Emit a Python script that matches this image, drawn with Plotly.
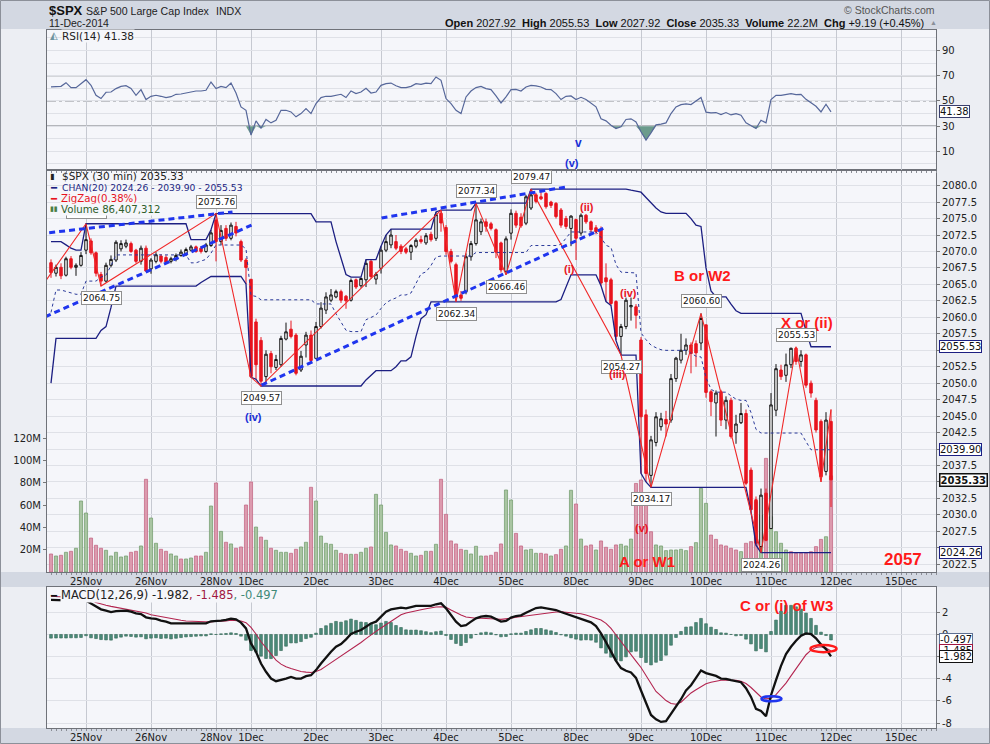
import plotly.graph_objects as go

# 30-minute bars, 24 Nov 2014 (last 7 bars) to 11 Dec 2014; x = bar number
day_labels = ["25Nov", "26Nov", "28Nov", "1Dec", "2Dec", "3Dec", "4Dec", "5Dec",
              "8Dec", "9Dec", "10Dec", "11Dec", "12Dec", "15Dec"]
day_start = [7, 20, 33, 40, 53, 66, 79, 92, 105, 118, 131, 144, 157, 170]

opens = [2068.3, 2066.7, 2067.6, 2066.4, 2068.9, 2067.6, 2067.9, 2070.2, 2071.6, 2069.8,
         2066.5, 2065.5, 2067.9, 2068.7, 2070.4, 2070.8, 2071.2, 2070.2, 2068.5, 2070.5,
         2067.36, 2068.5, 2069.3, 2069.1, 2068.5, 2068.8, 2069.4, 2069.5, 2070.2, 2070.7,
         2070.5, 2070.0, 2070.9, 2074.78, 2071.5, 2073.5, 2072.0, 2073.8, 2071.5, 2068.7,
         2065.78, 2059.3, 2056.5, 2051.0, 2054.5, 2052.4, 2052.8, 2056.7, 2058.2, 2057.3,
         2052.0, 2055.8, 2057.3, 2053.77, 2058.6, 2061.1, 2062.6, 2063.1, 2063.9, 2063.2,
         2062.6, 2065.7, 2064.8, 2065.7, 2068.5, 2065.8, 2067.45, 2070.2, 2071.0, 2071.5,
         2070.8, 2070.4, 2069.9, 2070.8, 2071.8, 2071.3, 2072.6, 2072.0, 2075.8, 2073.64,
         2070.0, 2068.0, 2063.4, 2063.9, 2069.2, 2071.2, 2073.0, 2074.5, 2074.2, 2073.3,
         2071.3, 2067.0, 2072.78, 2075.8, 2075.2, 2074.3, 2076.6, 2078.6, 2078.3, 2078.8,
         2077.5, 2077.3, 2076.3, 2075.0, 2073.5, 2074.84, 2072.8, 2075.5, 2074.5, 2073.6,
         2073.3, 2066.0, 2065.7, 2062.4, 2057.1, 2058.6, 2061.6, 2061.6, 2056.55, 2045.2,
         2036.0, 2041.0, 2043.4, 2044.5, 2044.4, 2050.7, 2053.5, 2055.0, 2055.8, 2056.0,
         2056.1, 2058.86, 2048.7, 2047.0, 2048.7, 2044.4, 2047.4, 2042.5, 2044.0, 2045.4,
         2036.8, 2032.3, 2025.2, 2033.3, 2027.92, 2045.9, 2052.0, 2051.2, 2052.8, 2055.3,
         2053.3, 2054.3, 2050.0, 2047.4, 2044.2, 2036.6, 2044.2]
highs = [2068.8, 2068.0, 2068.2, 2069.2, 2069.3, 2068.2, 2069.9, 2074.21, 2072.0, 2070.0,
         2066.9, 2068.3, 2069.4, 2071.7, 2071.7, 2071.8, 2071.5, 2070.4, 2070.9, 2070.9,
         2069.0, 2069.9, 2069.6, 2069.4, 2069.2, 2069.7, 2070.3, 2070.6, 2071.0, 2070.9,
         2070.7, 2071.3, 2073.29, 2075.76, 2074.0, 2074.0, 2074.4, 2074.5, 2071.8, 2069.0,
         2065.78, 2059.8, 2057.0, 2055.0, 2054.9, 2054.3, 2057.2, 2059.2, 2059.5, 2057.6,
         2054.9, 2057.8, 2058.0, 2059.3, 2062.3, 2063.8, 2064.3, 2064.2, 2064.2, 2063.4,
         2065.9, 2065.9, 2066.0, 2068.77, 2068.7, 2066.9, 2070.8, 2072.5, 2073.4, 2072.5,
         2071.1, 2070.7, 2071.1, 2072.0, 2072.4, 2072.8, 2073.0, 2076.0, 2076.28, 2074.0,
         2070.4, 2068.3, 2064.0, 2069.7, 2071.6, 2077.34, 2075.0, 2075.0, 2074.5, 2073.5,
         2071.5, 2072.3, 2076.4, 2076.2, 2075.8, 2078.6, 2079.47, 2078.9, 2079.0, 2079.0,
         2077.7, 2077.5, 2076.6, 2075.4, 2075.5, 2075.0, 2075.78, 2075.7, 2074.7, 2074.0,
         2073.8, 2068.2, 2066.0, 2062.6, 2059.0, 2063.0, 2063.0, 2062.0, 2057.0, 2046.0,
         2042.0, 2045.6, 2045.5, 2045.8, 2051.4, 2054.0, 2057.5, 2056.8, 2056.2, 2056.5,
         2060.60, 2058.86, 2049.0, 2048.9, 2049.0, 2048.0, 2047.8, 2045.2, 2047.0, 2046.0,
         2037.2, 2032.8, 2034.0, 2034.0, 2048.5, 2052.9, 2052.8, 2054.5, 2055.4, 2055.53,
         2055.0, 2054.5, 2050.4, 2047.8, 2044.5, 2045.6, 2046.0]
lows = [2066.0, 2066.2, 2065.8, 2066.2, 2067.3, 2066.3, 2067.7, 2069.6, 2069.5, 2066.2,
        2064.75, 2065.3, 2067.6, 2068.4, 2070.0, 2070.5, 2069.8, 2068.2, 2068.0, 2066.9,
        2066.62, 2068.2, 2068.2, 2068.1, 2068.2, 2068.5, 2069.2, 2069.3, 2070.0, 2069.8,
        2069.7, 2069.8, 2070.7, 2068.5, 2071.0, 2071.6, 2071.7, 2072.3, 2068.4, 2065.06,
        2050.9, 2050.6, 2049.57, 2050.2, 2051.5, 2052.0, 2052.5, 2056.5, 2056.8, 2051.2,
        2051.7, 2053.9, 2053.2, 2053.77, 2058.3, 2060.5, 2062.3, 2062.9, 2062.2, 2061.3,
        2062.4, 2064.3, 2064.5, 2064.6, 2065.9, 2065.0, 2066.65, 2069.9, 2070.5, 2070.2,
        2069.6, 2069.6, 2068.7, 2070.5, 2071.2, 2071.0, 2071.5, 2071.6, 2073.0, 2069.5,
        2068.2, 2062.34, 2062.5, 2063.5, 2068.6, 2070.9, 2072.5, 2073.0, 2073.2, 2069.0,
        2066.8, 2066.46, 2071.8, 2073.6, 2073.6, 2074.0, 2076.3, 2077.3, 2077.8, 2076.5,
        2076.6, 2075.0, 2073.6, 2073.4, 2070.81, 2068.7, 2072.4, 2074.2, 2072.9, 2072.6,
        2064.8, 2062.4, 2061.8, 2056.5, 2054.27, 2058.2, 2059.5, 2058.3, 2036.3, 2035.0,
        2034.17, 2040.4, 2042.8, 2041.9, 2044.0, 2050.2, 2053.0, 2054.3, 2051.5, 2052.5,
        2055.0, 2047.8, 2045.0, 2041.9, 2043.5, 2043.0, 2041.6, 2040.8, 2043.8, 2034.5,
        2030.5, 2025.4, 2024.26, 2026.0, 2027.92, 2045.0, 2050.5, 2050.2, 2052.3, 2052.8,
        2052.5, 2049.3, 2047.8, 2042.5, 2035.0, 2036.0, 2031.2]
closes = [2066.8, 2067.6, 2066.3, 2068.9, 2067.6, 2067.9, 2069.4, 2071.8, 2069.8, 2066.7,
          2065.5, 2067.9, 2068.8, 2071.4, 2071.2, 2071.3, 2070.0, 2068.5, 2070.5, 2067.03,
          2068.7, 2069.5, 2068.5, 2068.4, 2068.9, 2069.4, 2069.9, 2070.3, 2070.7, 2070.0,
          2070.0, 2071.0, 2072.83, 2071.5, 2073.2, 2072.0, 2074.0, 2072.8, 2068.7, 2067.56,
          2051.0, 2052.8, 2050.3, 2054.4, 2052.5, 2053.6, 2056.8, 2057.8, 2057.1, 2051.5,
          2054.1, 2057.3, 2053.44, 2058.6, 2061.4, 2063.1, 2063.4, 2063.9, 2062.6, 2062.5,
          2065.6, 2064.6, 2065.9, 2068.2, 2066.2, 2066.55, 2070.2, 2071.5, 2072.5, 2070.5,
          2070.0, 2069.9, 2070.9, 2071.7, 2071.5, 2072.4, 2071.8, 2075.6, 2074.33, 2070.0,
          2068.5, 2063.1, 2062.9, 2069.2, 2071.2, 2074.8, 2074.5, 2073.8, 2073.5, 2069.9,
          2067.2, 2071.92, 2075.8, 2074.0, 2073.9, 2078.3, 2078.6, 2077.6, 2078.0, 2076.8,
          2077.0, 2075.3, 2074.0, 2073.8, 2075.37, 2072.0, 2075.5, 2074.5, 2073.3, 2073.0,
          2065.2, 2065.4, 2062.1, 2057.1, 2058.6, 2062.6, 2061.8, 2060.31, 2044.9, 2036.3,
          2041.4, 2044.9, 2044.6, 2043.8, 2050.7, 2053.8, 2055.0, 2055.8, 2054.5, 2054.6,
          2059.82, 2048.6, 2047.2, 2048.5, 2044.4, 2047.4, 2041.9, 2043.8, 2045.4, 2034.8,
          2030.8, 2025.7, 2033.0, 2026.14, 2046.7, 2052.2, 2051.0, 2052.8, 2055.3, 2053.3,
          2054.3, 2049.7, 2048.5, 2042.9, 2035.8, 2044.4, 2035.33]

volume_m = [16.2, 14.4, 15.0, 17.7, 18.6, 21.3, 63.8, 53.0, 30.5, 24.0,
            21.3, 19.5, 14.4, 17.7, 13.5, 14.4, 17.7, 18.6, 23.4, 83.3,
            48.5, 25.8, 20.4, 18.6, 16.2, 14.4, 11.7, 11.7, 12.6, 14.4,
            14.4, 17.7, 59.3, 80.0, 36.5, 26.7, 25.2, 21.3, 22.5, 60.2,
            80.9, 40.4, 31.4, 28.5, 21.3, 19.5, 17.7, 17.7, 16.8, 20.4,
            22.5, 26.7, 76.1, 63.8, 32.3, 25.8, 24.9, 19.5, 16.8, 15.9,
            15.9, 15.9, 17.7, 21.3, 22.5, 69.8, 60.2, 35.6, 24.3, 23.4,
            20.4, 18.6, 16.8, 14.4, 15.0, 18.6, 18.6, 24.9, 83.3, 51.8,
            27.9, 25.2, 20.4, 19.5, 16.2, 23.1, 14.4, 14.4, 15.0, 17.7,
            25.2, 73.7, 64.7, 34.7, 23.4, 19.8, 20.4, 16.8, 16.8, 16.2,
            14.4, 15.6, 20.4, 23.4, 73.4, 61.1, 29.6, 23.4, 24.3, 19.8,
            27.9, 22.2, 20.4, 24.3, 24.9, 23.4, 29.6, 79.6, 82.7, 63.2,
            36.2, 24.3, 23.4, 19.2, 19.8, 19.8, 20.4, 19.2, 22.8, 26.4,
            75.2, 61.7, 33.2, 29.3, 24.3, 23.4, 21.3, 19.8, 18.3, 25.8,
            27.3, 63.2, 51.2, 102.1, 49.7, 36.2, 25.8, 19.8, 18.3, 16.8,
            16.8, 16.8, 18.3, 22.8, 29.3, 31.7, 86.4]
# u = green volume bar, d = pink volume bar
volume_dir = ("dududuuudd" "duuuuuddud" "uudduuduud" "duudududdd" "dududuuudd"
              "uuduuuuudd" "uduuduuuud" "dduudududd" "ddduuuuddd" "duudduuudd"
              "udduududdu" "dddduuuddd" "duuuuuuudu" "uuddddddud" "dduduuuudd"
              "dddddud")

rsi14 = [61.1, 61.1, 61.6, 64.5, 60.6, 60.6, 63.7, 66.9, 62.4, 54.5,
         51.9, 56.9, 57.1, 59.8, 61.6, 62.1, 60.0, 54.5, 59.0, 51.1,
         53.7, 54.5, 53.7, 52.7, 53.4, 55.3, 55.5, 56.3, 57.1, 57.9,
         57.9, 58.5, 65.0, 59.8, 61.6, 60.6, 64.2, 56.3, 45.3, 42.6,
         22.9, 34.2, 28.4, 35.3, 32.6, 34.7, 42.6, 42.6, 41.3, 37.4,
         40.0, 44.0, 40.0, 47.9, 52.7, 53.7, 53.7, 54.2, 55.3, 52.7,
         57.9, 55.8, 57.1, 60.0, 56.3, 57.1, 62.4, 63.7, 64.2, 62.1,
         60.6, 60.6, 61.6, 63.7, 63.2, 64.2, 63.7, 69.0, 66.4, 51.9,
         47.9, 42.6, 40.0, 53.2, 57.9, 60.6, 61.6, 59.8, 59.0, 54.0,
         48.4, 53.2, 59.0, 59.2, 57.9, 61.1, 62.4, 61.9, 61.1, 59.2,
         59.0, 55.8, 51.1, 53.7, 54.0, 51.1, 52.9, 51.1, 48.4, 45.3,
         35.8, 34.2, 30.8, 28.1, 29.5, 35.3, 35.8, 33.4, 25.5, 18.9,
         24.7, 31.0, 31.6, 32.6, 40.0, 45.3, 47.1, 47.7, 47.1, 49.8,
         52.7, 41.1, 40.5, 40.8, 39.2, 40.8, 38.9, 40.0, 38.7, 32.6,
         30.0, 28.1, 34.7, 32.6, 51.1, 54.5, 54.5, 55.3, 55.8, 55.0,
         55.3, 51.3, 48.7, 45.8, 41.3, 47.4, 41.38]

macd_line = [3.12, 3.10, 3.08, 3.06, 3.06, 3.03, 3.03, 3.06, 2.82, 2.51,
             2.27, 2.15, 2.03, 2.12, 2.15, 2.15, 2.06, 1.91, 1.85, 1.55,
             1.46, 1.40, 1.25, 1.16, 1.00, 1.00, 1.00, 1.00, 1.00, 1.00,
             1.00, 1.00, 1.19, 1.19, 1.25, 1.31, 1.43, 1.37, 1.07, 0.55,
             -0.81, -1.56, -2.62, -3.37, -3.98, -4.22, -4.13, -3.98, -3.83, -3.98,
             -3.98, -3.77, -3.68, -3.22, -2.62, -2.07, -1.56, -1.11, -0.87, -0.44,
             0.04, 0.25, 0.40, 0.70, 1.00, 1.16, 1.61, 2.06, 2.27, 2.36,
             2.42, 2.36, 2.45, 2.58, 2.58, 2.58, 2.58, 2.73, 2.82, 2.36,
             1.76, 1.16, 0.76, 0.85, 1.16, 1.46, 1.61, 1.67, 1.61, 1.37,
             1.16, 1.22, 1.52, 1.67, 1.73, 1.97, 2.21, 2.39, 2.45, 2.39,
             2.33, 2.21, 2.03, 1.88, 1.70, 1.52, 1.37, 1.28, 1.10, 0.76,
             0.10, -0.69, -1.50, -2.38, -3.04, -3.28, -3.43, -3.92, -5.06, -6.24,
             -7.27, -7.66, -7.90, -7.84, -7.21, -6.57, -5.85, -5.06, -4.58, -3.92,
             -3.25, -3.49, -3.65, -3.74, -3.98, -4.01, -4.13, -4.25, -4.31, -4.85,
             -5.64, -6.72, -6.91, -7.39, -5.49, -4.13, -2.83, -1.77, -1.11, -0.57,
             -0.11, 0.10, 0.04, -0.35, -0.90, -1.32, -1.982]
macd_signal = [3.45, 3.42, 3.40, 3.38, 3.36, 3.33, 3.30, 3.17, 3.12, 2.88,
               2.73, 2.64, 2.54, 2.45, 2.39, 2.30, 2.24, 2.15, 2.06, 1.94,
               1.79, 1.70, 1.61, 1.49, 1.40, 1.34, 1.28, 1.22, 1.19, 1.16,
               1.13, 1.13, 1.13, 1.19, 1.19, 1.22, 1.28, 1.28, 1.22, 1.07,
               0.64, 0.04, -0.66, -1.20, -1.80, -2.32, -2.68, -2.92, -3.07, -3.22,
               -3.34, -3.40, -3.43, -3.34, -3.16, -2.86, -2.56, -2.29, -1.98, -1.68,
               -1.35, -1.02, -0.72, -0.38, -0.02, 0.28, 0.58, 0.88, 1.19, 1.55,
               1.79, 1.94, 2.06, 2.18, 2.24, 2.33, 2.42, 2.48, 2.51, 2.45,
               2.21, 1.97, 1.76, 1.58, 1.49, 1.46, 1.46, 1.46, 1.46, 1.40,
               1.37, 1.40, 1.46, 1.55, 1.61, 1.70, 1.79, 1.85, 1.91, 1.97,
               2.00, 2.03, 2.06, 2.03, 2.00, 1.94, 1.88, 1.76, 1.61, 1.46,
               1.31, 1.00, 0.55, -0.05, -0.66, -1.26, -1.86, -2.41, -2.98, -3.71,
               -4.52, -5.15, -5.55, -5.97, -6.24, -6.30, -6.12, -5.73, -5.28, -5.00,
               -4.70, -4.46, -4.31, -4.19, -4.13, -4.13, -4.13, -4.13, -4.22, -4.43,
               -4.79, -5.24, -5.64, -5.82, -5.76, -5.43, -4.94, -4.40, -3.74, -3.07,
               -2.41, -1.83, -1.41, -1.17, -1.11, -1.23, -1.485]

# CHAN(20) price channel, stored as (level, number of bars)
chan_upper_runs = [(2071.5, 3), (2071.0, 1), (2070.5, 1), (2070.2, 2), (2074.21, 21),
                   (2071.8, 4), (2073.3, 1), (2075.76, 20), (2074.5, 4), (2071.5, 1),
                   (2069.0, 1), (2066.5, 1), (2066.1, 3), (2068.77, 3), (2070.8, 1),
                   (2072.5, 1), (2073.4, 9), (2076.0, 1), (2076.28, 7), (2077.34, 11),
                   (2079.47, 20), (2079.3, 1), (2079.2, 1), (2079.0, 1), (2078.2, 1),
                   (2077.4, 1), (2076.6, 1), (2076.0, 1), (2075.8, 5), (2075.0, 1),
                   (2074.0, 1), (2073.8, 1), (2067.5, 1), (2064.0, 1), (2063.1, 3),
                   (2062.0, 1), (2061.0, 1), (2060.6, 13), (2058.0, 1), (2055.53, 5)]
chan_lower_runs = [(2050.0, 1), (2056.8, 9), (2058.0, 1), (2058.6, 1), (2061.5, 1),
                   (2064.75, 17), (2065.3, 1), (2065.8, 1), (2066.2, 7), (2065.06, 1),
                   (2050.9, 1), (2050.6, 1), (2049.57, 21), (2050.5, 1), (2051.2, 1),
                   (2051.9, 4), (2052.5, 1), (2053.4, 2), (2054.0, 1), (2057.1, 1),
                   (2059.8, 1), (2060.4, 1), (2062.34, 26), (2062.7, 1), (2064.5, 1),
                   (2066.46, 6), (2064.8, 1), (2062.4, 1), (2061.8, 1), (2056.5, 1),
                   (2054.27, 4), (2036.3, 1), (2035.0, 1), (2034.17, 20), (2030.5, 1),
                   (2025.4, 1), (2024.26, 15)]

# ZigZag(0.38%) turning points (bar, price)
zigzag_bar = [-1, 7, 10, 33, 40, 42, 78, 81, 85, 91, 96, 114, 120, 130, 142, 149, 154, 156]
zigzag_price = [2065.6, 2074.21, 2064.75, 2075.76, 2050.9, 2049.57, 2076.28, 2062.34, 2077.34,
                2066.46, 2079.47, 2054.27, 2034.17, 2060.60, 2024.26, 2055.53, 2035.0, 2046.0]

# labelled swing points: (bar, price, label above?)
swing_labels = [(7, 2074.21, True), (10, 2064.75, False), (33, 2075.76, True),
                (42, 2049.57, False), (81, 2062.34, False), (85, 2077.34, True),
                (91, 2066.46, False), (96, 2079.47, True), (114, 2054.27, False),
                (120, 2034.17, False), (130, 2060.60, True), (142, 2024.26, False),
                (149, 2055.53, True)]

# hand-drawn dashed trendlines: ((bar, price), (bar, price))
trendlines = [((-10.3, 2072.0), (36.3, 2076.0)),
              ((-10.3, 2057.0), (40.1, 2074.0)),
              ((42.1, 2049.7), (110.7, 2073.6)),
              ((66.1, 2075.1), (103.1, 2079.8))]

# wave labels on the price panel: (text, bar, price, colour, size)
wave_labels = [("(iv)", 40.5, 2044.9, "#1a2fd6", 11), ("(ii)", 107.1, 2076.8, "#e8141e", 11),
               ("(i)", 103.7, 2067.3, "#e8141e", 11), ("(iv)", 115.5, 2063.7, "#e8141e", 11),
               ("(iii)", 113.3, 2051.4, "#e8141e", 11), ("(v)", 118.1, 2028.0, "#e8141e", 11),
               ("A or W1", 119.1, 2022.9, "#ff1a1a", 15), ("B or W2", 130.3, 2066.3, "#ff1a1a", 15),
               ("X or (ii)", 151.1, 2059.2, "#ff1a1a", 15), ("2057", 170.3, 2023.3, "#ff1a1a", 17)]

# price-axis ticks; labels hidden where the value tags sit on top of them
price_ticks = [2022.5 + 2.5 * k for k in range(24)]
price_hidden = [2025.0, 2035.0, 2040.0, 2055.0]


def expand(runs):
    out = []
    for level, n in runs:
        out += [level] * n
    return out


bars = list(range(len(closes)))
chan_upper = expand(chan_upper_runs)
chan_lower = expand(chan_lower_runs)
chan_mid = [(a + b) / 2 for a, b in zip(chan_upper, chan_lower)]
macd_hist = [m - s for m, s in zip(macd_line, macd_signal)]
rsi_low = [min(v, 30) for v in rsi14]

FONT = "DejaVu Sans"
BOLD = "Liberation Sans"
NAVY = "#1c1f82"
GRID_H = "#dfe1e7"
GRID_V = "#c6c9d1"
EDGE = "#6f7279"


def px_x(x):
    return (x - 47) / 889


def px_y(y):
    return (728 - y) / 698


fig = go.Figure()

# volume (base axis of the price panel so it stays behind the candles)
vol_fill = ["#a9c5a2" if c == "u" else "#dc9aae" for c in volume_dir]
vol_edge = ["#6f9a68" if c == "u" else "#c0607e" for c in volume_dir]
fig.add_trace(go.Bar(x=bars, y=volume_m, width=0.62, marker_color=vol_fill,
                     marker_line_color=vol_edge, marker_line_width=0.7,
                     xaxis="x2", yaxis="y2", hoverinfo="skip"))

fig.add_trace(go.Scatter(x=bars, y=chan_upper, mode="lines", line=dict(color=NAVY, width=1.3),
                         xaxis="x2", yaxis="y3"))
fig.add_trace(go.Scatter(x=bars, y=chan_lower, mode="lines", line=dict(color=NAVY, width=1.3),
                         xaxis="x2", yaxis="y3"))
fig.add_trace(go.Scatter(x=bars, y=chan_mid, mode="lines",
                         line=dict(color="#2b3a9a", width=1, dash="dot"),
                         xaxis="x2", yaxis="y3"))

fig.add_trace(go.Candlestick(x=bars, open=opens, high=highs, low=lows, close=closes,
                             increasing=dict(line=dict(color="#111111", width=1), fillcolor="#ffffff"),
                             decreasing=dict(line=dict(color="#e8141e", width=1), fillcolor="#e8141e"),
                             whiskerwidth=0, xaxis="x2", yaxis="y3", hoverinfo="skip"))

fig.add_trace(go.Scatter(x=zigzag_bar, y=zigzag_price, mode="lines",
                         line=dict(color="#f02828", width=1.1), xaxis="x2", yaxis="y3"))

for (b0, p0), (b1, p1) in trendlines:
    fig.add_trace(go.Scatter(x=[b0, b1], y=[p0, p1], mode="lines",
                             line=dict(color="#1f35ee", width=3, dash="6px,4px"),
                             xaxis="x2", yaxis="y3"))

# RSI panel
fig.add_trace(go.Scatter(x=bars, y=[30] * len(bars), mode="lines", line=dict(width=0),
                         xaxis="x3", yaxis="y", hoverinfo="skip"))
fig.add_trace(go.Scatter(x=bars, y=rsi_low, mode="lines", line=dict(width=0),
                         fill="tonexty", fillcolor="#6b9b8c", xaxis="x3", yaxis="y", hoverinfo="skip"))
fig.add_trace(go.Scatter(x=bars, y=rsi14, mode="lines", line=dict(color="#56679a", width=1.2),
                         xaxis="x3", yaxis="y"))

# MACD panel
fig.add_trace(go.Bar(x=bars, y=macd_hist, width=0.55, marker_color="#4d8c7b",
                     marker_line_color="#2f6453", marker_line_width=0.6,
                     xaxis="x", yaxis="y4", hoverinfo="skip"))
fig.add_trace(go.Scatter(x=bars, y=macd_signal, mode="lines", line=dict(color="#b3244f", width=1.1),
                         xaxis="x", yaxis="y4"))
fig.add_trace(go.Scatter(x=bars, y=macd_line, mode="lines", line=dict(color="#111111", width=2.3),
                         xaxis="x", yaxis="y4"))

xcommon = dict(range=[-0.8, 177], tickmode="array", tickvals=day_start, ticktext=day_labels,
               showgrid=True, gridcolor=GRID_V, gridwidth=1, zeroline=False,
               showline=True, mirror=True, linecolor=EDGE, linewidth=1,
               tickfont=dict(family=FONT, size=10, color="#222"), ticks="",
               minor=dict(ticks="outside", ticklen=2, dtick=1, tick0=0, tickcolor="#8a8d95"),
               rangeslider=dict(visible=False), fixedrange=True, automargin=False)
ycommon = dict(zeroline=False, ticks="outside", ticklen=3, tickcolor="#777",
               tickfont=dict(size=10), automargin=False)

fig.update_layout(
    width=990, height=744, autosize=False,
    margin=dict(l=47, r=54, t=30, b=16),
    paper_bgcolor="#eceef3", plot_bgcolor="#f5f6fa",
    showlegend=False, hovermode=False,
    font=dict(family=FONT, size=10, color="#222"),
    xaxis=dict(xcommon, anchor="y4", domain=[0, 1]),
    xaxis2=dict(xcommon, anchor="y2", domain=[0, 1], matches="x"),
    xaxis3=dict(xcommon, anchor="y", domain=[0, 1], matches="x", showticklabels=False),
    yaxis=dict(ycommon, domain=[0.7994, 1], anchor="x3", side="right", range=[-4.8, 106.3],
               tickmode="array", tickvals=[10, 30, 50, 70, 90], showgrid=True, gridcolor=GRID_H,
               minor=dict(dtick=10, tick0=0, showgrid=True, gridcolor=GRID_H),
               showline=True, mirror=True, linecolor=EDGE),
    yaxis2=dict(ycommon, domain=[0.2235, 0.7994], anchor="x2", side="left", range=[0, 361.2],
                tickmode="array", tickvals=[20, 40, 60, 80, 100, 120],
                ticktext=["20M", "40M", "60M", "80M", "100M", "120M"],
                showgrid=False, showline=True, mirror=True, linecolor=EDGE),
    yaxis3=dict(ycommon, overlaying="y2", anchor="x2", side="right", range=[2021.33, 2082.37],
                tickmode="array", tickvals=price_ticks,
                ticktext=["" if t in price_hidden else "%.1f" % t for t in price_ticks],
                showgrid=True, gridcolor=GRID_H),
    yaxis4=dict(ycommon, domain=[0, 0.2020], anchor="x", side="right", range=[-8.45, 4.29],
                tickmode="array", tickvals=[2, 0, -2, -4, -6, -8],
                ticktext=["2", "0", "", "-4", "-6", "-8"],
                showgrid=True, gridcolor=GRID_H,
                showline=True, mirror=True, linecolor=EDGE),
)

shapes = []
band = "#d3d8e2"
for y0, y1 in [(0, 29), (572, 587), (728, 744)]:
    shapes.append(dict(type="rect", xref="paper", yref="paper", x0=px_x(0), x1=px_x(990),
                       y0=px_y(y1), y1=px_y(y0), fillcolor=band, line=dict(width=0), layer="below"))
shapes.append(dict(type="rect", xref="paper", yref="paper", x0=px_x(0.5), x1=px_x(989.5),
                   y0=px_y(743.5), y1=px_y(0.5), line=dict(color="#8c9099", width=1), layer="above"))
for lvl, dash, col in [(70, "solid", "#75777d"), (30, "solid", "#75777d"), (50, "dashdot", "#8e9096")]:
    shapes.append(dict(type="line", xref="paper", yref="y", x0=0, x1=1, y0=lvl, y1=lvl,
                       line=dict(color=col, width=1.2, dash=dash), layer="between"))
# ellipses drawn on the MACD panel
shapes.append(dict(type="circle", xref="x", yref="y4", x0=142.1, x1=146.1, y0=-6.04, y1=-5.58,
                   line=dict(color="#1f35ee", width=2.5)))
shapes.append(dict(type="circle", xref="x", yref="y4", x0=151.9, x1=157.1, y0=-1.60, y1=-0.96,
                   line=dict(color="#ff1a1a", width=2.5)))
fig.update_layout(shapes=shapes)

ann = []


def text(x, y, s, size=10.5, color="#222", family=FONT, anchor="left", bg=None):
    d = dict(xref="paper", yref="paper", x=px_x(x), y=px_y(y), text=s, showarrow=False,
             xanchor=anchor, yanchor="middle", font=dict(family=family, size=size, color=color))
    if bg:
        d.update(bgcolor=bg, borderpad=0)
    ann.append(d)


# swing price boxes
for b, p, up in swing_labels:
    ann.append(dict(xref="x2", yref="y3", x=b, y=p, text="%.2f" % p, showarrow=False,
                    yanchor="bottom" if up else "top", yshift=5 if up else -5,
                    font=dict(family=FONT, size=9, color="#111"), bgcolor="#ffffff",
                    bordercolor="#8f8f8f", borderwidth=1, borderpad=1))

# header
text(47, 11, "<b>$SPX</b>", 13, "#111", BOLD)
text(84, 11, "S&P 500 Large Cap Index", 10.6, "#222", BOLD)
text(214, 11, "INDX", 10.6, "#222", BOLD)
text(47, 23, "11-Dec-2014", 10.5, "#222", BOLD)
text(926, 23, "<b>Open</b> 2027.92  <b>High</b> 2055.53  <b>Low</b> 2027.92  <b>Close</b> 2035.33  "
     "<b>Volume</b> 22.2M  <b>Chg</b> +9.19 (+0.45%)", 11, "#111", BOLD, anchor="right")
text(928, 23, "▲", 7, "#8a8f99", BOLD)
text(937, 10, "© StockCharts.com", 10.5, "#555", BOLD, anchor="right")

# panel legends
text(48, 36, "◭", 10, "#6d93a0")
text(61, 36, "RSI(14) 41.38", 10.5, "#222", bg="#f5f6fa")
text(48, 176, "▮", 8, "#222")
text(60, 176, "$SPX (30 min) 2035.33", 10.5, "#222")
text(48, 187, "━", 10, NAVY)
text(60, 187, "CHAN(20) 2024.26 - 2039.90 - 2055.53", 9.2, NAVY)
text(48, 199, "━", 10, "#e8141e")
text(60, 199, "ZigZag(0.38%)", 10.2, "#e8141e", bg="#f5f6fa")
text(48, 209, "▮▮", 7, "#4a7d44")
text(60, 209, "Volume 86,407,312", 10.2, "#2f5e2b", bg="#f5f6fa")
text(48, 595, "━", 10, "#111")
text(60, 595, "MACD(12,26,9) -1.982<span style='color:#a01840'>, -1.485</span>"
     "<span style='color:#3f8a78'>, -0.497</span>", 11.5, "#222", bg="#f5f6fa")

# wave counts
for s, b, p, col, sz in wave_labels:
    ann.append(dict(xref="x2", yref="y3", x=b, y=p, text="<b>%s</b>" % s, showarrow=False,
                    font=dict(family=BOLD, size=sz, color=col)))
ann.append(dict(xref="x3", yref="y", x=105.5, y=16.6, text="<b>v</b>", showarrow=False,
                font=dict(family=BOLD, size=12, color="#1a2fd6")))
ann.append(dict(xref="x3", yref="y", x=104.1, y=0.8, text="<b>(v)</b>", showarrow=False,
                font=dict(family=BOLD, size=11, color="#1a2fd6")))
ann.append(dict(xref="x", yref="y4", x=147.1, y=2.66, text="<b>C or (i) of W3</b>", showarrow=False,
                font=dict(family=BOLD, size=15, color="#ff1a1a")))

# value tags at the right edge
tags = [("y", 41.38, "41.38", "#3a3f6e", False), ("y3", 2055.53, "2055.53", NAVY, False),
        ("y3", 2039.90, "2039.90", NAVY, False), ("y3", 2024.26, "2024.26", NAVY, False),
        ("y3", 2035.33, "2035.33", "#111", True), ("y4", -0.497, "-0.497", "#5d6f92", False),
        ("y4", -1.485, "-1.485", "#a01840", False), ("y4", -1.982, "-1.982", "#111", False)]
for yref, v, s, col, bold in tags:
    ann.append(dict(xref="paper", yref=yref, x=1, y=v, xanchor="left", xshift=3,
                    text="<b>%s</b>" % s if bold else s, showarrow=False,
                    font=dict(family=FONT, size=10, color="#111"), bgcolor="#ffffff",
                    bordercolor=col, borderwidth=1.5 if bold else 1, borderpad=0))

fig.update_layout(annotations=ann)

# the page's default 8px body margin would push the 990x744 chart off the window
fig.write_html("out.html", config={"displayModeBar": False},
               post_script="document.body.style.margin='0px';")
